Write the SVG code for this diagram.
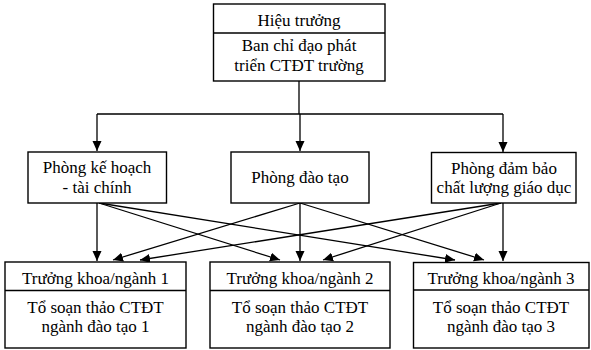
<svg xmlns="http://www.w3.org/2000/svg" width="591" height="350" viewBox="0 0 591 350">
<style>
.box{fill:#fff;stroke:#000;stroke-width:1.4}
.ln{fill:none;stroke:#000;stroke-width:1.3}
text{font-family:"Liberation Serif","Times New Roman",serif;font-size:17px;fill:#000;text-anchor:middle}
</style>
<defs>
<marker id="ah" viewBox="0 0 10 10" refX="10" refY="5" markerWidth="10" markerHeight="10" markerUnits="userSpaceOnUse" orient="auto">
<path d="M0,0.5 L10,5 L0,9.5 Z" fill="#000"/>
</marker>
</defs>
<g id="connectors">
<path class="ln" d="M299,81 V114 M97,114 H503"/>
<path class="ln" d="M97,114 V151" marker-end="url(#ah)"/>
<path class="ln" d="M300,114 V151" marker-end="url(#ah)"/>
<path class="ln" d="M503,114 V152" marker-end="url(#ah)"/>
<path class="ln" d="M97,203 V261" marker-end="url(#ah)"/>
<path class="ln" d="M99,203 L280,260" marker-end="url(#ah)"/>
<path class="ln" d="M99,203 L455,260" marker-end="url(#ah)"/>
<path class="ln" d="M300,203 V261" marker-end="url(#ah)"/>
<path class="ln" d="M300,203 L113,260" marker-end="url(#ah)"/>
<path class="ln" d="M300,203 L484,260" marker-end="url(#ah)"/>
<path class="ln" d="M503,203 V261" marker-end="url(#ah)"/>
<path class="ln" d="M501,203 L140,260" marker-end="url(#ah)"/>
<path class="ln" d="M501,203 L323,260" marker-end="url(#ah)"/>
</g>
<g id="top">
<rect class="box" x="213.5" y="4" width="171.5" height="77"/>
<line class="ln" x1="213.5" y1="33" x2="385" y2="33"/>
<text x="299" y="26">Hiệu trưởng</text>
<text x="299" y="51">Ban chỉ đạo phát</text>
<text x="299" y="71">triển CTĐT trường</text>
</g>
<g id="phong-ke-hoach">
<rect class="box" x="28" y="152" width="138.5" height="51"/>
<text x="97" y="173">Phòng kế hoạch</text>
<text x="97" y="193">- tài chính</text>
</g>
<g id="phong-dao-tao">
<rect class="box" x="231" y="152" width="138" height="51"/>
<text x="300" y="183">Phòng đào tạo</text>
</g>
<g id="phong-dam-bao">
<rect class="box" x="431.5" y="152.5" width="144.5" height="50.5"/>
<text x="504" y="174">Phòng đảm bảo</text>
<text x="504" y="193">chất lượng giáo dục</text>
</g>
<g id="khoa1">
<rect class="box" x="5" y="262" width="181" height="86"/>
<line class="ln" x1="5" y1="290.5" x2="186" y2="290.5"/>
<text x="95.5" y="284">Trưởng khoa/ngành 1</text>
<text x="95.5" y="313">Tổ soạn thảo CTĐT</text>
<text x="95.5" y="332">ngành đào tạo 1</text>
</g>
<g id="khoa2">
<rect class="box" x="210" y="262" width="180" height="86"/>
<line class="ln" x1="210" y1="290.5" x2="390" y2="290.5"/>
<text x="300" y="284">Trưởng khoa/ngành 2</text>
<text x="300" y="313">Tổ soạn thảo CTĐT</text>
<text x="300" y="332">ngành đào tạo 2</text>
</g>
<g id="khoa3">
<rect class="box" x="413.5" y="262.5" width="175.5" height="85.5"/>
<line class="ln" x1="413.5" y1="290" x2="589" y2="290"/>
<text x="501" y="284">Trưởng khoa/ngành 3</text>
<text x="501" y="313">Tổ soạn thảo CTĐT</text>
<text x="501" y="332">ngành đào tạo 3</text>
</g>
</svg>
